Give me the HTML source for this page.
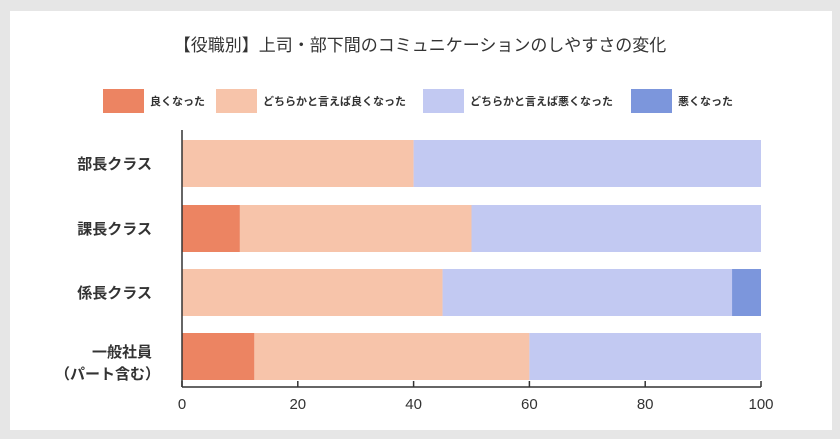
<!DOCTYPE html>
<html><head><meta charset="utf-8"><style>
body{margin:0;background:#e6e6e6;font-family:"Liberation Sans","Noto Sans CJK JP",sans-serif;}
#card{position:absolute;left:10px;top:11px;width:822px;height:419px;background:#fff;}
svg{position:absolute;left:0;top:0;}
</style></head><body>
<div id="card"></div>
<svg id="c" width="840" height="439">
<text x="420" y="51" text-anchor="middle" font-size="17" fill="#333">【役職別】上司・部下間のコミュニケーションのしやすさの変化</text>
</svg>
<script>
const categories=["部長クラス","課長クラス","係長クラス","一般社員"];
const seriesNames=["良くなった","どちらかと言えば良くなった","どちらかと言えば悪くなった","悪くなった"];
const sGood=[0,10,0,12.5];
const sSomewhatGood=[40,40,45,47.5];
const sSomewhatBad=[60,50,50,40];
const sBad=[0,0,5,0];
const ticks=[0,20,40,60,80,100];
const colors=["#ec8462","#f7c4aa","#c2c9f2","#7c96dc"];
const series=[sGood,sSomewhatGood,sSomewhatBad,sBad];
const svg=document.getElementById('c');const NS="http://www.w3.org/2000/svg";
function mk(t,a,p){const e=document.createElementNS(NS,t);for(const k in a)e.setAttribute(k,a[k]);(p||svg).appendChild(e);return e;}
const x0=182,x1=761,axisY=387;
const xs=v=>x0+(x1-x0)*v/100;
const rowTop=[140,205,269,333],bh=47;
const legX=[103,216,423,631];
seriesNames.forEach((n,i)=>{
 const r=mk('rect',{x:legX[i],y:89,width:41,height:24,fill:colors[i]});
 
 
 const t=mk('text',{x:legX[i]+47,y:105,'font-size':11,'font-weight':'bold',fill:'#333'});t.textContent=n;
 
 
});
categories.forEach((c,ci)=>{
 let acc=0;const y=rowTop[ci];
 series.forEach((s,si)=>{
  const v=s[ci];if(v>0){
   const r=mk('rect',{x:xs(acc),y:y,width:xs(acc+v)-xs(acc),height:bh,fill:colors[si]});
   
   
  }acc+=v;
 });
 const t=mk('text',{x:152,'text-anchor':'end','font-size':15,'font-weight':'bold',fill:'#333'});
 
 
 if(ci===3){t.setAttribute('y',y+24);t.textContent=c;
  const t2=mk('text',{x:160,y:y+46,'text-anchor':'end','font-size':15,'font-weight':'bold',fill:'#333'});t2.textContent='（パート含む）';
  
  
 }else{t.setAttribute('y',y+29);t.textContent=c;}
});
const ax=mk('line',{x1:x0,y1:axisY,x2:x1,y2:axisY,stroke:'#333','stroke-width':1.5});


const ay=mk('line',{x1:x0,y1:130,x2:x0,y2:axisY,stroke:'#333','stroke-width':1.5});


ticks.forEach(v=>{
 const l=mk('line',{x1:xs(v),y1:axisY-6,x2:xs(v),y2:axisY,stroke:'#333','stroke-width':1.5});
 
 
 const t=mk('text',{x:xs(v),y:409,'text-anchor':'middle','font-size':15,fill:'#333'});t.textContent=v;
 
 
});
</script>
</body></html>
